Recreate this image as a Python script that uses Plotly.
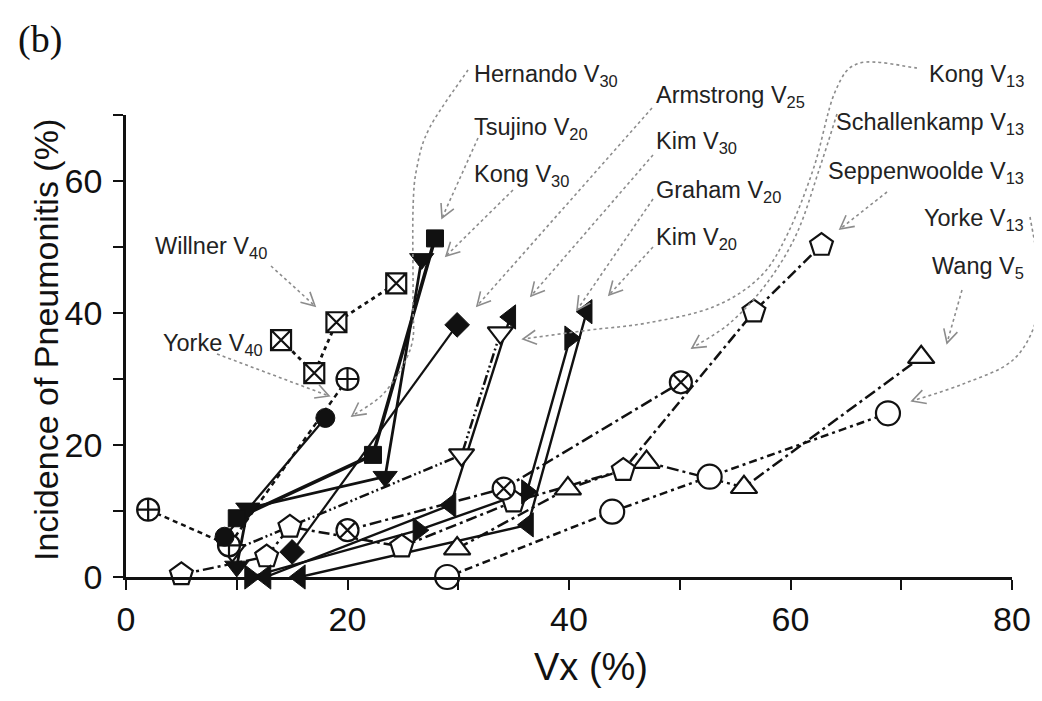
import math
import plotly.graph_objects as go

# ---------------- data ----------------
hernando_x = [8.9, 18.0]
hernando_y = [6.1, 24.1]

tsujino_x = [10.0, 22.3, 27.9]
tsujino_y = [8.9, 18.5, 51.3]

kong30_x = [10.0, 11.0, 23.4, 26.7]
kong30_y = [1.6, 10.4, 15.2, 48.2]

armstrong_x = [15.0, 29.9]
armstrong_y = [3.8, 38.2]

kim30_x = [12.6, 29.3, 34.7]
kim30_y = [0.0, 10.9, 39.4]

graham_x = [11.2, 26.4, 36.2, 40.1]
graham_y = [0.0, 7.1, 12.9, 36.2]

kim20_x = [15.7, 36.3, 41.6]
kim20_y = [0.0, 7.9, 40.2]

willner_x = [14.0, 17.0, 19.0, 24.4]
willner_y = [35.9, 30.9, 38.6, 44.5]

yorke40_x = [2.0, 9.3, 20.0]
yorke40_y = [10.2, 4.8, 30.0]

kong13_x = [9.6, 30.3, 33.8]
kong13_y = [4.0, 18.5, 37.0]

schallenkamp_x = [20.0, 34.1, 50.1]
schallenkamp_y = [7.1, 13.4, 29.5]

seppenwoolde_x = [5.0, 12.7, 14.8, 24.9, 35.0, 44.9, 56.7, 62.8]
seppenwoolde_y = [0.4, 3.1, 7.6, 4.6, 11.4, 16.2, 40.2, 50.3]

yorke13_x = [29.0, 43.9, 52.7, 68.8]
yorke13_y = [0.0, 9.9, 15.2, 24.8]

wang_x = [29.9, 39.9, 47.0, 55.8, 71.8]
wang_y = [4.3, 13.4, 17.4, 13.6, 33.3]

x_ticks = [0, 20, 40, 60, 80]
y_ticks = [0, 20, 40, 60]

# ---------------- styles ----------------
BLACK = "#111111"
series = [
    ("Yorke V13", yorke13_x, yorke13_y, "circle", "white", "8px,4px,3px,4px", 2.5, 24),
    ("Wang V5", wang_x, wang_y, "triangle-up", "white", "12px,4px,3px,4px", 2.5, 23),
    ("Seppenwoolde V13", seppenwoolde_x, seppenwoolde_y, "pentagon", "white", "11px,4px,3px,4px", 2.5, 24),
    ("Schallenkamp V13", schallenkamp_x, schallenkamp_y, "circle-x", "white", "12px,4px,3px,4px", 2.5, 22),
    ("Kong V13", kong13_x, kong13_y, "triangle-down", "white", "10px,3px,2px,3px,2px,3px", 2.5, 22),
    ("Willner V40", willner_x, willner_y, "square-x", "white", "4px,4px", 2.8, 20),
    ("Yorke V40", yorke40_x, yorke40_y, "circle-cross", "white", "5px,4px", 2.5, 22),
    ("Armstrong V25", armstrong_x, armstrong_y, "diamond", BLACK, "solid", 2.2, 19),
    ("Kim V30", kim30_x, kim30_y, "triangle-left", BLACK, "solid", 2.4, 21),
    ("Graham V20", graham_x, graham_y, "triangle-right", BLACK, "solid", 2.4, 21),
    ("Kim V20", kim20_x, kim20_y, "triangle-left", BLACK, "solid", 2.4, 21),
    ("Kong V30", kong30_x, kong30_y, "triangle-down", BLACK, "solid", 2.8, 21),
    ("Tsujino V20", tsujino_x, tsujino_y, "square", BLACK, "solid", 3.6, 17),
    ("Hernando V30", hernando_x, hernando_y, "circle", BLACK, "solid", 2.2, 19),
]

fig = go.Figure()

# lines first
for name, xs, ys, sym, fill, dash, lw, ms in series:
    fig.add_trace(go.Scatter(x=xs, y=ys, mode="lines", name=name, showlegend=False,
                             line=dict(color=BLACK, width=lw, dash=dash),
                             cliponaxis=False, hoverinfo="skip"))
# markers on top
for name, xs, ys, sym, fill, dash, lw, ms in series:
    fig.add_trace(go.Scatter(x=xs, y=ys, mode="markers", name=name, showlegend=False,
                             marker=dict(symbol=sym, size=ms, color=fill,
                                         line=dict(color=BLACK, width=2.2 if fill == "white" else 1)),
                             cliponaxis=False))

# ---------------- layout geometry ----------------
PAGE_OFFSET = 8                      # default body margin of the html page
W, H = 1042 - PAGE_OFFSET, 701 - PAGE_OFFSET
# plot area on screen (px)
L, R, T, B = 126, 1012, 115, 577


def px2paper(p):
    return ((p[0] - L) / (R - L), (B - p[1]) / (B - T))


def smooth_path(pts):
    pp = [px2paper(p) for p in pts]
    s = "M %.5f,%.5f" % pp[0]
    if len(pp) == 2:
        return s + " L %.5f,%.5f" % pp[1]
    for i in range(len(pp) - 1):
        p0 = pp[i - 1] if i > 0 else pp[i]
        p1 = pp[i]
        p2 = pp[i + 1]
        p3 = pp[i + 2] if i + 2 < len(pp) else pp[i + 1]
        c1 = (p1[0] + (p2[0] - p0[0]) / 6, p1[1] + (p2[1] - p0[1]) / 6)
        c2 = (p2[0] - (p3[0] - p1[0]) / 6, p2[1] - (p3[1] - p1[1]) / 6)
        s += " C %.5f,%.5f %.5f,%.5f %.5f,%.5f" % (c1 + c2 + p2)
    return s


def head_path(pts, length=15, ang=28):
    tip = pts[-1]
    prev = pts[-2]
    dx, dy = tip[0] - prev[0], tip[1] - prev[1]
    n = math.hypot(dx, dy)
    dx, dy = dx / n, dy / n
    arms = []
    for sgn in (1, -1):
        a = math.radians(ang) * sgn
        rx = dx * math.cos(a) - dy * math.sin(a)
        ry = dx * math.sin(a) + dy * math.cos(a)
        arms.append((tip[0] - length * rx, tip[1] - length * ry))
    a1, t, a2 = px2paper(arms[0]), px2paper(tip), px2paper(arms[1])
    return "M %.5f,%.5f L %.5f,%.5f L %.5f,%.5f" % (a1 + t + a2)


# label text, anchor, label position (screen px), leader path (screen px)
labels = [
    ("Hernando V<sub>30</sub>", "left", (472, 76),
     [(468, 70), (430, 127), (417, 167), (413, 210), (413, 300), (411, 347), (385, 392), (352, 416)]),
    ("Tsujino V<sub>20</sub>", "left", (472, 128), [(478, 138), (442, 218)]),
    ("Kong V<sub>30</sub>", "left", (472, 175), [(513, 190), (446, 256)]),
    ("Armstrong V<sub>25</sub>", "left", (654, 96), [(652, 108), (477, 306)]),
    ("Kim V<sub>30</sub>", "left", (654, 143), [(653, 155), (531, 296)]),
    ("Graham V<sub>20</sub>", "left", (654, 191), [(653, 199), (577, 310)]),
    ("Kim V<sub>20</sub>", "left", (654, 238), [(653, 247), (609, 295)]),
    ("Kong V<sub>13</sub>", "right", (1026, 76),
     [(917, 68), (860, 63), (835, 92), (814, 167), (788, 233), (760, 277), (713, 307), (647, 323),
      (590, 330), (523, 339)]),
    ("Schallenkamp V<sub>13</sub>", "right", (1026, 124),
     [(837, 114), (820, 167), (797, 233), (767, 283), (730, 323), (692, 348)]),
    ("Seppenwoolde V<sub>13</sub>", "right", (1026, 172), [(887, 192), (840, 229)]),
    ("Yorke V<sub>13</sub>", "right", (1026, 219),
     [(1030, 217), (1038, 267), (1037, 317), (1013, 360), (963, 384), (912, 401)]),
    ("Wang V<sub>5</sub>", "right", (1026, 267), [(962, 290), (947, 343)]),
    ("Willner V<sub>40</sub>", "left", (153, 247), [(271, 266), (315, 306)]),
    ("Yorke V<sub>40</sub>", "left", (161, 344), [(217, 354), (329, 396)]),
]

LEAD = "#8c8c8c"
FONT = "Arial, Liberation Sans"
shapes = []
annotations = []
for text, anchor, pos, path in labels:
    xp, yp = px2paper(pos)
    annotations.append(dict(text=text, x=xp, y=yp, xref="paper", yref="paper",
                            xanchor=anchor, yanchor="middle", showarrow=False,
                            font=dict(family=FONT, size=23.5, color="#222222")))
    shapes.append(dict(type="path", path=smooth_path(path), xref="paper", yref="paper",
                       line=dict(color=LEAD, width=1.6, dash="dot"), layer="above"))
    shapes.append(dict(type="path", path=head_path(path), xref="paper", yref="paper",
                       line=dict(color=LEAD, width=1.6), layer="above"))

# axis titles and panel letter
for text, pos, angle, fam, size in [
    ("Incidence of Pneumonitis (%)", (46, 340), -90, FONT, 34),
    ("Vx (%)", (591, 667), 0, FONT, 38),
    ("(b)", (40, 40), 0, "Liberation Serif, Times New Roman", 38),
]:
    xp, yp = px2paper(pos)
    annotations.append(dict(text=text, textangle=angle, x=xp, y=yp, xref="paper", yref="paper",
                            xanchor="center", yanchor="middle", showarrow=False,
                            font=dict(family=fam, size=size, color="#111")))

axis_common = dict(showgrid=False, zeroline=False, showline=True, linecolor=BLACK, linewidth=2.5,
                   ticks="outside", ticklen=10, tickwidth=2, tickcolor=BLACK,
                   tickfont=dict(family=FONT, size=34, color="#111"),
                   minor=dict(dtick=10, ticks="outside", ticklen=10, tickwidth=2, tickcolor=BLACK))

fig.update_layout(
    width=W, height=H, autosize=False,
    margin=dict(l=L - PAGE_OFFSET, r=W - (R - PAGE_OFFSET), t=T - PAGE_OFFSET,
                b=H - (B - PAGE_OFFSET), pad=0),
    paper_bgcolor="white", plot_bgcolor="white",
    showlegend=False,
    xaxis=dict(range=[0, 80], tickvals=x_ticks, ticktext=[str(v) for v in x_ticks], **axis_common),
    yaxis=dict(range=[0, 70], tickvals=y_ticks, ticktext=[str(v) for v in y_ticks],
               ticklabelstandoff=4, **axis_common),
    shapes=shapes, annotations=annotations,
)

fig.write_html("out.html")
